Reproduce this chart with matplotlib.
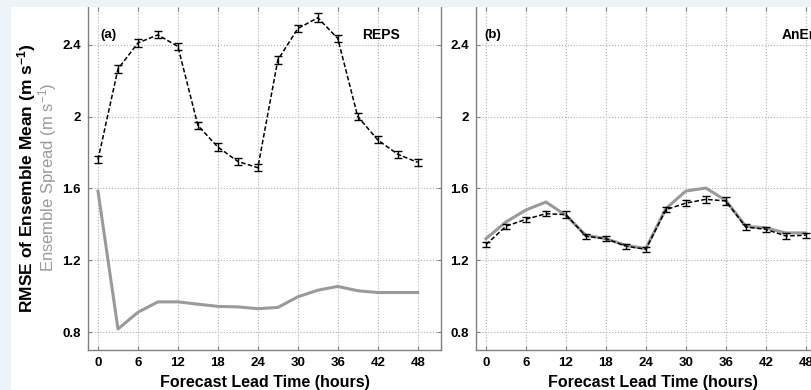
import matplotlib
matplotlib.use("Agg")
import matplotlib.pyplot as plt
from matplotlib.patches import Rectangle

# Forecast lead times (hours)
lead_hours = [0, 3, 6, 9, 12, 15, 18, 21, 24, 27, 30, 33, 36, 39, 42, 45, 48]

# Panel (a) REPS
reps_rmse = [1.76, 2.265, 2.41, 2.455, 2.39, 1.95, 1.83, 1.75, 1.715, 2.315,
             2.49, 2.55, 2.435, 2.0, 1.87, 1.79, 1.745]
reps_rmse_err = [0.02, 0.02, 0.02, 0.02, 0.02, 0.02, 0.02, 0.02, 0.02, 0.02,
                 0.02, 0.025, 0.02, 0.02, 0.02, 0.02, 0.02]
reps_spread = [1.585, 0.817, 0.91, 0.968, 0.968, 0.955, 0.943, 0.94, 0.93, 0.937,
               0.996, 1.033, 1.054, 1.03, 1.02, 1.02, 1.02]

# Panel (b) AnEn
anen_rmse = [1.287, 1.389, 1.428, 1.459, 1.454, 1.333, 1.32, 1.278, 1.261, 1.481,
             1.518, 1.539, 1.53, 1.385, 1.372, 1.335, 1.339]
anen_rmse_err = [0.015, 0.015, 0.015, 0.015, 0.02, 0.015, 0.015, 0.015, 0.015, 0.015,
                 0.015, 0.02, 0.02, 0.015, 0.015, 0.015, 0.015]
anen_spread = [1.32, 1.413, 1.48, 1.524, 1.45, 1.339, 1.32, 1.283, 1.265, 1.487,
               1.585, 1.602, 1.533, 1.389, 1.38, 1.352, 1.352]

x_ticks = [0, 6, 12, 18, 24, 30, 36, 42, 48]
y_ticks = [0.8, 1.2, 1.6, 2.0, 2.4]
y_tick_labels = ["0.8", "1.2", "1.6", "2", "2.4"]

plt.rcParams["font.family"] = ["Liberation Sans", "DejaVu Sans"]
plt.rcParams["mathtext.default"] = "regular"

SPINE_GREY = "#808080"
SPREAD_GREY = "#9a9a9a"


def style_axes(ax):
    ax.set_xlim(-1.5, 51.5)
    ax.set_ylim(0.7, 2.61)
    ax.set_xticks(x_ticks)
    ax.set_yticks(y_ticks)
    ax.set_yticklabels(y_tick_labels)
    ax.tick_params(direction="in", length=3, width=0.8, color=SPINE_GREY,
                   labelsize=9.5, pad=5, top=True, right=True)
    for lbl in ax.get_xticklabels() + ax.get_yticklabels():
        lbl.set_fontweight("bold")
    for side in ["left", "bottom", "right"]:
        ax.spines[side].set_color(SPINE_GREY)
        ax.spines[side].set_linewidth(1.0)
    ax.spines["top"].set_visible(False)
    ax.grid(True, linestyle=":", color="#b0b0b0", linewidth=0.8)
    ax.set_axisbelow(True)
    ax.set_xlabel("Forecast Lead Time (hours)", fontsize=11.5,
                  fontweight="bold", labelpad=4)


def draw_panel(ax, rmse, err, spread):
    ax.plot(lead_hours, spread, color=SPREAD_GREY, linewidth=2.2, zorder=2)
    ax.errorbar(lead_hours, rmse, yerr=err, color="black", linestyle="--",
                linewidth=1.1, capsize=3, elinewidth=1.0, capthick=1.0,
                dashes=(3, 1.5), zorder=3)


fig = plt.figure(figsize=(8.11, 3.9), dpi=100)

# light blue margin strips seen on the scan
fig.patches.append(Rectangle((0, 1 - 7 / 390), 1, 7 / 390, transform=fig.transFigure,
                             facecolor="#edf4f9", edgecolor="none", zorder=0))
fig.patches.append(Rectangle((0, 0), 11 / 811, 1, transform=fig.transFigure,
                             facecolor="#edf4f9", edgecolor="none", zorder=0))

ax_a = fig.add_axes([88 / 811, 1 - 350 / 390, 353 / 811, 343 / 390])
ax_b = fig.add_axes([476 / 811, 1 - 350 / 390, 353 / 811, 343 / 390])

draw_panel(ax_a, reps_rmse, reps_rmse_err, reps_spread)
draw_panel(ax_b, anen_rmse, anen_rmse_err, anen_spread)
style_axes(ax_a)
style_axes(ax_b)

ax_a.text(0.3, 2.456, "(a)", fontsize=9.5, fontweight="bold", va="center")
ax_a.text(39.6, 2.456, "REPS", fontsize=10, fontweight="bold", va="center")
ax_b.text(-0.2, 2.456, "(b)", fontsize=9.5, fontweight="bold", va="center")
ax_b.text(44.4, 2.456, "AnEn", fontsize=10, fontweight="bold", va="center",
          clip_on=False)

# two-line y label: black for RMSE, grey for spread
fig.text(27 / 811, 1 - 178 / 390, "RMSE of Ensemble Mean (m s$^{-1}$)",
         rotation=90, ha="center", va="center", fontsize=12.5, fontweight="bold")
fig.text(48 / 811, 1 - 177 / 390, "Ensemble Spread (m s$^{-1}$)",
         rotation=90, ha="center", va="center", fontsize=12, color=SPREAD_GREY)

fig.savefig("out.png", dpi=100)
